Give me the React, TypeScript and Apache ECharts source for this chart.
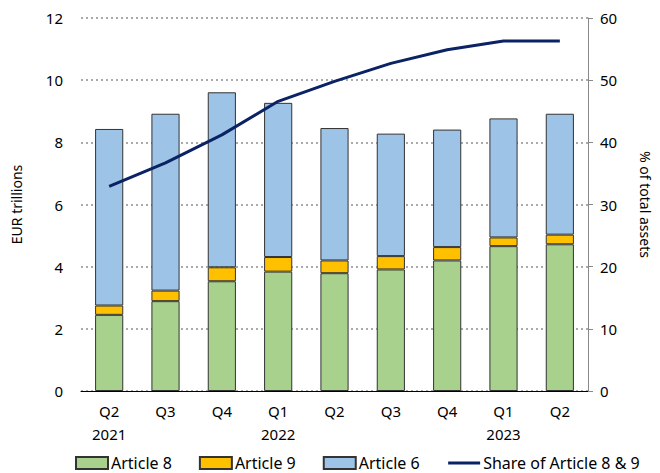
import React, { useEffect, useRef } from "react";
import * as echarts from "echarts";

const categories = ["Q2\n2021", "Q3", "Q4", "Q1\n2022", "Q2", "Q3", "Q4", "Q1\n2023", "Q2"];
const article8 = [2.45, 2.89, 3.53, 3.84, 3.79, 3.91, 4.2, 4.66, 4.72];
const article9 = [0.3, 0.34, 0.45, 0.47, 0.41, 0.43, 0.43, 0.28, 0.31];
const article6 = [5.68, 5.69, 5.63, 4.96, 4.26, 3.94, 3.78, 3.83, 3.89];
const share89 = [32.9, 36.7, 41.2, 46.6, 49.8, 52.7, 54.9, 56.3, 56.3];

const FONT = "Noto Sans";

export default function App() {
  const ref = useRef<HTMLDivElement>(null);
  useEffect(() => {
    if (!ref.current) return;
    const chart = echarts.init(ref.current, null, { renderer: "svg" });
    const barBorder = { borderColor: "#333333", borderWidth: 1 };
    chart.setOption({
      animation: false,
      textStyle: { fontFamily: FONT },
      grid: { left: 81, right: 66, top: 18, bottom: 82, containLabel: false },
      legend: {
        bottom: -3,
        left: 70,
        itemWidth: 32,
        itemHeight: 12,
        itemGap: 27,
        textStyle: { fontFamily: FONT, fontSize: 16, color: "#000", padding: [0, 0, 0, -2] },
        data: [
          { name: "Article 8", icon: "rect" },
          { name: "Article 9", icon: "rect" },
          { name: "Article 6", icon: "rect" },
          { name: "Share of Article 8 & 9", itemStyle: { opacity: 0 }, lineStyle: { width: 3 } },
        ],
      },
      xAxis: {
        type: "category",
        data: categories,
        axisLine: { lineStyle: { color: "#000", width: 1 } },
        axisTick: { show: false },
        axisLabel: { fontFamily: FONT, fontSize: 15, color: "#000", lineHeight: 23, margin: 8 },
      },
      yAxis: [
        {
          type: "value",
          min: 0,
          max: 12,
          interval: 2,
          name: "EUR trillions",
          nameLocation: "middle",
          nameGap: 58,
          nameRotate: 90,
          nameTextStyle: { fontFamily: FONT, fontSize: 14, color: "#000" },
          axisLine: { show: false },
          axisTick: { show: false },
          axisLabel: { fontFamily: FONT, fontSize: 15, color: "#000", margin: 18 },
          splitLine: { lineStyle: { color: "#aaaaaa", type: [2, 3], width: 2 } },
        },
        {
          type: "value",
          min: 0,
          max: 60,
          interval: 10,
          position: "right",
          name: "% of total assets",
          nameLocation: "middle",
          nameGap: 50,
          nameRotate: -90,
          nameTextStyle: { fontFamily: FONT, fontSize: 14, color: "#000" },
          axisLine: { show: true, lineStyle: { color: "#888888", width: 1 } },
          axisTick: { show: true, length: 5, lineStyle: { color: "#888888" } },
          axisLabel: { fontFamily: FONT, fontSize: 15, color: "#000", margin: 12 },
          splitLine: { show: false },
        },
      ],
      series: [
        {
          name: "Article 8",
          type: "bar",
          stack: "a",
          barWidth: "50%",
          data: article8,
          itemStyle: { color: "#a9d18e", ...barBorder },
        },
        {
          name: "Article 9",
          type: "bar",
          stack: "a",
          data: article9,
          itemStyle: { color: "#ffc000", ...barBorder },
        },
        {
          name: "Article 6",
          type: "bar",
          stack: "a",
          data: article6,
          itemStyle: { color: "#9dc3e6", ...barBorder },
        },
        {
          name: "Share of Article 8 & 9",
          type: "line",
          yAxisIndex: 1,
          data: share89,
          symbol: "none",
          lineStyle: { color: "#0b2265", width: 3 },
          itemStyle: { color: "#0b2265" },
        },
      ],
    });
    return () => chart.dispose();
  }, []);
  return <div ref={ref} style={{ width: 660, height: 473, position: "absolute", left: 0, top: 0 }} />;
}
